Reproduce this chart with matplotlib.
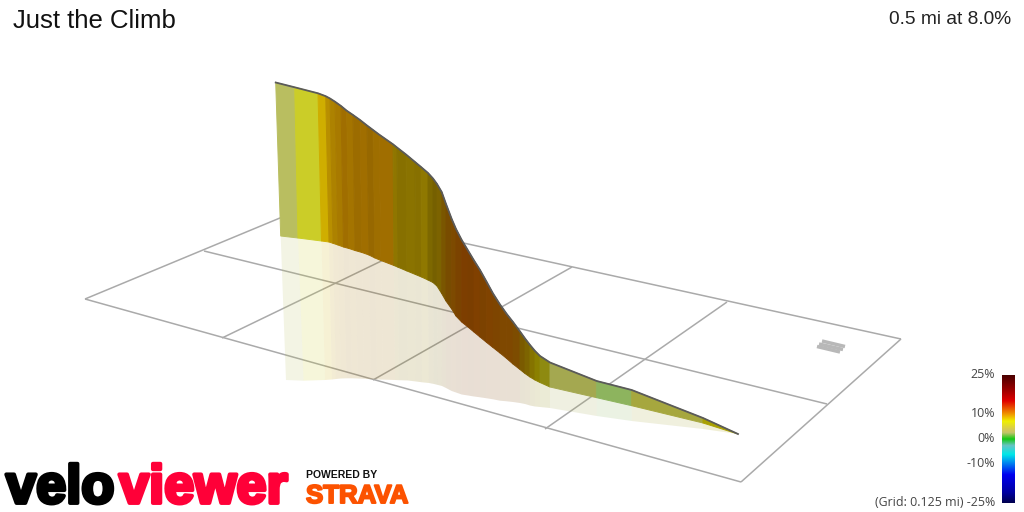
import numpy as np
import matplotlib
matplotlib.use('Agg')
import matplotlib.pyplot as plt
import matplotlib.patheffects as pe
from matplotlib.colors import LinearSegmentedColormap

title = 'Just the Climb'
summary = '0.5 mi at 8.0%'

# profile (screen pixels): top of wall, foot of wall, foot of reflection
top_x = [275.7, 294.7, 318, 325.7, 330, 335, 341, 346.7, 353, 360, 367, 373, 379, 393, 397, 406, 415, 421,
         428, 433, 437, 441.7, 446, 451.7, 456, 461.7, 468, 474, 480, 486.7, 493, 500, 506.7, 513, 520, 525,
         530, 535, 540, 550, 596.7, 631.7, 703, 738]
top_y = [82.5, 87.3, 93.3, 96.2, 98.5, 101.7, 106, 110.7, 115, 120, 125.5, 130, 134.5, 144.3, 147.5, 154.5, 162, 167,
         173, 178.5, 184, 192, 204, 219, 229, 240, 250.5, 260.5, 270, 282, 293.5, 304.5, 314, 322, 331.5, 338.5,
         345, 351, 356, 362.5, 381, 390, 418, 434]
foot_x = [280.7, 298, 321.5, 329, 333, 338, 343.5, 349, 355, 362, 369, 375, 381, 394, 398, 407, 415.5, 421.5,
          428, 433, 437, 441.7, 446, 451.7, 456, 461.7, 468, 474, 480, 486.7, 493, 500, 506.7, 513, 520, 525,
          530, 535, 540, 550, 596.7, 631.7, 703, 738]
foot_y = [236, 238, 241, 242, 243.3, 245, 247, 248.5, 250.5, 252.5, 255, 258, 260.5, 265.5, 267.2, 271, 274.5, 277,
          280, 282.5, 286, 293.5, 301, 309, 316, 322, 327, 332, 337, 342.5, 347.5, 353, 358.5, 364, 369.5, 373.5,
          377, 380, 382.5, 387, 397.7, 405.7, 423, 434]
refl_x = [286, 303.5, 325, 332, 336, 341, 346.5, 352, 358, 364, 371, 377, 383, 395, 399, 408, 416, 422,
          429, 434, 438, 442, 446, 451.7, 456, 461.7, 468, 474, 480, 486.7, 493, 500, 506.7, 513, 520, 525,
          530, 535, 540, 550, 596.7, 631.7, 703, 738]
refl_y = [380, 380.7, 380, 379.5, 379, 378.5, 378.3, 378.3, 378.5, 378.8, 379.2, 379.5, 379.6, 380, 380.2, 380.5, 381.5, 382.3,
          383, 384, 385, 386, 388, 391, 392.5, 394.5, 395.5, 396.5, 397.3, 398.3, 399.3, 400.7, 401.3, 402, 403, 404,
          405.5, 406.5, 407, 408, 416, 421, 429, 434]

seg_colors = ['#B9BE60', '#CBCD28', '#CFAE00', '#B88F00', '#AD8200', '#A87A00', '#A06E00', '#A47400', '#9C6C00', '#A06E00',
              '#976800', '#9E6E00', '#A06E00', '#8F7600', '#877000', '#8A7300', '#877000', '#8F7800', '#7D6800', '#766000',
              '#7C6300', '#7A5600', '#784C00', '#7D4A00', '#7B4300', '#7D3E00', '#7B3E00', '#804000', '#7C4200', '#804300',
              '#7E4500', '#7F4800', '#7F4800', '#7D4C00', '#7A5A00', '#7D6400', '#857300', '#8B8000', '#8E8A10', '#A4A850',
              '#8DB45E', '#A6A73E', '#A9A000']

# floor grid
grid_x = [[85, 741], [204, 827], [304, 901], [85, 304], [222, 400], [373, 572], [545, 727], [741, 901]]
grid_y = [[299, 482], [251, 404], [208, 339], [299, 208], [338, 252], [380, 267], [429, 302], [482, 339]]

# little grey marks at the far end of the grid
mark_x = [[822, 845], [819, 843], [817, 840]]
mark_y = [[341, 346.5], [344, 349.5], [346.5, 352]]

# colour scale
grade_ticks = [25, 10, 0, -10]
grade_stops = [-25, -21, -14, -9, -6, -2.5, 0, 2.5, 4, 7, 10, 15, 19, 25]
grade_colors = ['#00004E', '#0000A0', '#0000F0', '#0090F0', '#00E8E8', '#66C4C4', '#14C814', '#C4C46A', '#D8CC50',
                '#F0F000', '#F09000', '#E00000', '#A00000', '#4A0000']

plt.rcParams['font.family'] = ['Liberation Sans', 'DejaVu Sans']

fig = plt.figure(figsize=(10.24, 5.12), dpi=100)
ax = fig.add_axes([0, 0, 1, 1])
ax.axis('off')

for gx, gy in zip(grid_x, grid_y):
    ax.plot(gx, gy, color='#AAAAAA', linewidth=1.1, zorder=1, solid_capstyle='butt')
for mx, my in zip(mark_x, mark_y):
    ax.plot(mx, my, color='#B8B8B8', linewidth=2.5, zorder=1, solid_capstyle='butt')

for i, c in enumerate(seg_colors):
    ax.fill([foot_x[i], foot_x[i + 1], refl_x[i + 1], refl_x[i]],
            [foot_y[i], foot_y[i + 1], refl_y[i + 1], refl_y[i]],
            color=c, alpha=0.17, linewidth=0, zorder=2)
    ax.fill([top_x[i], top_x[i + 1], foot_x[i + 1], foot_x[i]],
            [top_y[i], top_y[i + 1], foot_y[i + 1], foot_y[i]],
            color=c, linewidth=0.7, zorder=3)
ax.plot(top_x, top_y, color='#5A5A5A', linewidth=1.3, zorder=4)

# colour bar
cmap = LinearSegmentedColormap.from_list('grade', [((g + 25) / 50, c) for g, c in zip(grade_stops, grade_colors)])
ax.imshow(np.linspace(1, 0, 256).reshape(-1, 1), cmap=cmap, extent=[1002, 1015, 503, 375], aspect='auto', zorder=3)

ax.set_xlim(0, 1024)
ax.set_ylim(512, 0)

ax.text(13, 21, title, fontsize=18.5, color='#111111', va='center', ha='left')
ax.text(1011, 20, summary, fontsize=13.75, color='#222222', va='center', ha='right')

for g in grade_ticks:
    ax.text(995, 438.5 - g * 2.54, '%d%%' % g, family=['Open Sans', 'DejaVu Sans'], fontsize=8.9, color='#444444', va='center', ha='right')
ax.text(995, 502, '(Grid: 0.125 mi) -25%', family=['Open Sans', 'DejaVu Sans'], fontsize=8.9, color='#444444', va='center', ha='right')

# logo, stroked to get the heavy look
thick = [pe.withStroke(linewidth=2.8, foreground='#000000')]
ax.text(6, 503, 'velo', weight='bold', fontsize=39, color='#000000',
        va='baseline', ha='left', path_effects=thick)
thick = [pe.withStroke(linewidth=2.8, foreground='#FF0038')]
ax.text(119, 503, 'viewer', weight='bold', fontsize=39, color='#FF0038',
        va='baseline', ha='left', path_effects=thick)
ax.text(306, 478, 'POWERED BY', weight='bold', fontsize=7.5, color='#111111', va='baseline', ha='left')
thick = [pe.withStroke(linewidth=1.4, foreground='#FC5200')]
ax.text(306, 503, 'STRAVA', weight='bold', fontsize=18.6, color='#FC5200',
        va='baseline', ha='left', path_effects=thick)

fig.savefig('out.png', dpi=100)
